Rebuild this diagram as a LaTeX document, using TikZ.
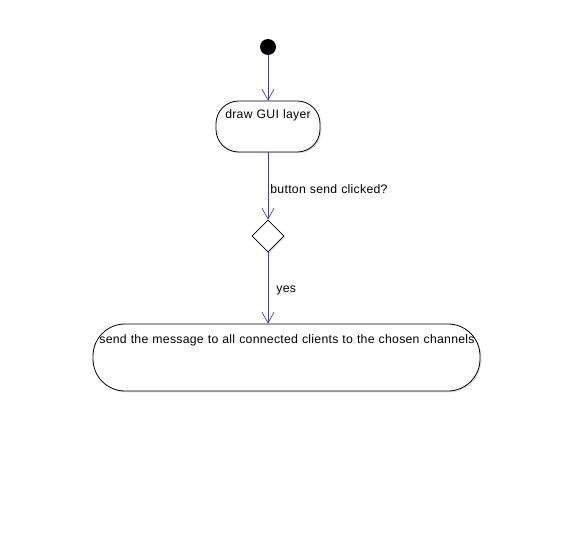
\documentclass[tikz,border=0pt]{standalone}
\usepackage{fontspec}
\setmainfont[LetterSpace=2.2,WordSpace=1.1]{Liberation Sans}
\usetikzlibrary{arrows.meta,shapes.geometric,shadows}
\begin{document}
\begin{tikzpicture}[x=0.75pt,y=-0.75pt,
  flow/.style={draw={rgb,255:red,60;green,60;blue,170},line width=0.6pt,
    -{Straight Barb[length=8pt,width=9pt,line width=0.5pt]}},
  actbox/.style={draw=black,line width=0.6pt,fill=white,
    drop shadow={shadow xshift=1pt,shadow yshift=-1pt,opacity=0.25,fill=gray}},
  lbl/.style={font=\fontsize{9.2}{11}\selectfont,inner sep=0pt},
  ]
\useasboundingbox (0,0) rectangle (571,536);
\node[circle,fill=black,minimum size=12pt,inner sep=0pt] (start) at (268,47) {};
\node[actbox,rectangle,rounded corners=17pt,minimum width=78pt,minimum height=38.25pt,inner sep=0pt] (gui) at (268,126.5) {};
\node[lbl,anchor=center] (guitxt) at (268,115) {draw GUI layer};
\node[actbox,diamond,minimum width=24pt,minimum height=24pt,inner sep=0pt] (dec) at (268,236) {};
\node[actbox,rectangle,rounded corners=24pt,minimum width=290.25pt,minimum height=50.25pt,inner sep=0pt] (send) at (286.5,357.5) {};
\node[lbl,anchor=center] (sendtxt) at (287,340) {send the message to all connected clients to the chosen channels};
\draw[flow] (start) -- (gui);
\draw[flow] (gui.south) -- node[lbl,anchor=west,pos=0.55,xshift=1.5pt] {button send clicked?} (dec.north);
\draw[flow] (dec.south) -- node[lbl,anchor=west,pos=0.53,xshift=6pt] {yes} (dec.south |- send.north);
\end{tikzpicture}
\end{document}
